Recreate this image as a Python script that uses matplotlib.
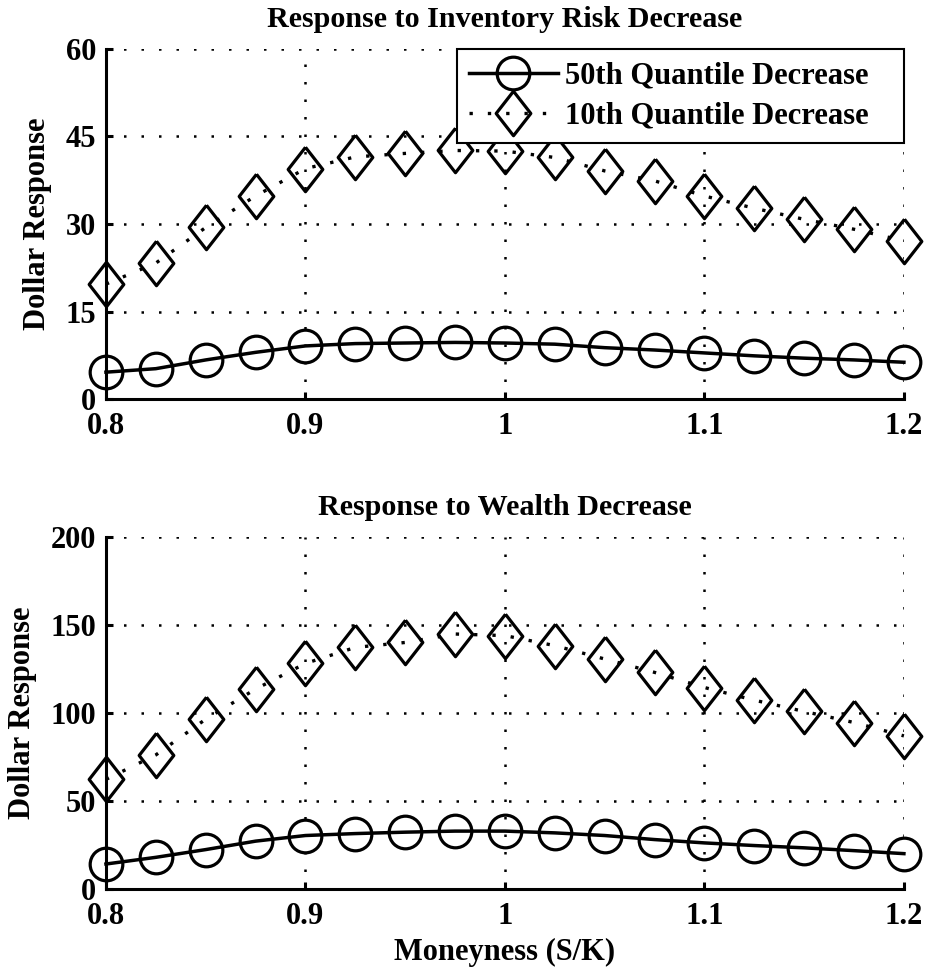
import matplotlib
matplotlib.use('Agg')
import matplotlib.pyplot as plt
import numpy as np

# moneyness grid (S/K)
moneyness = [0.8, 0.825, 0.85, 0.875, 0.9, 0.925, 0.95, 0.975, 1.0,
             1.025, 1.05, 1.075, 1.1, 1.125, 1.15, 1.175, 1.2]

# response to inventory risk decrease
inv_q50 = [4.6, 5.2, 6.7, 8.0, 9.1, 9.5, 9.6, 9.7, 9.6,
           9.4, 8.8, 8.4, 7.9, 7.4, 7.0, 6.7, 6.3]
inv_q10 = [19.7, 23.3, 29.4, 34.8, 39.5, 41.5, 42.1, 42.6, 42.5,
           41.4, 39.1, 37.4, 34.8, 32.7, 30.8, 29.1, 27.1]

# response to wealth decrease
wealth_q50 = [14.2, 18.0, 22.4, 27.2, 30.4, 31.5, 32.3, 32.9, 32.9,
              31.9, 30.4, 28.1, 26.2, 24.7, 23.4, 21.8, 20.1]
wealth_q10 = [62.3, 76.2, 96.5, 113.6, 128.2, 137.3, 140.1, 144.9, 144.0,
              138.3, 130.7, 123.1, 114.5, 107.3, 100.9, 94.6, 87.0]

x_ticks = [0.8, 0.9, 1.0, 1.1, 1.2]
x_ticklabels = ['0.8', '0.9', '1', '1.1', '1.2']
inv_yticks = [0, 15, 30, 45, 60]
wealth_yticks = [0, 50, 100, 150, 200]
series_names = ['50th Quantile Decrease', '10th Quantile Decrease']

plt.rcParams['font.family'] = ['Liberation Serif', 'DejaVu Serif']
plt.rcParams['font.weight'] = 'bold'
plt.rcParams['font.size'] = 22

# tall diamond like the matlab marker
diamond = [(0, 1), (0.78, 0), (0, -1), (-0.78, 0), (0, 1)]

fig = plt.figure(figsize=(9.27, 9.68), dpi=100)
ax1 = fig.add_axes([0.1143, 0.5878, 0.8608, 0.3616])
ax2 = fig.add_axes([0.1143, 0.0816, 0.8608, 0.3636])


def style_axes(ax, yticks, title):
    ax.set_xlim(0.8, 1.2)
    ax.set_ylim(yticks[0], yticks[-1])
    ax.set_xticks(x_ticks)
    ax.set_xticklabels(x_ticklabels)
    ax.set_yticks(yticks)
    ax.set_yticklabels([str(t) for t in yticks])
    for s in ['top', 'right']:
        ax.spines[s].set_visible(False)
    for s in ['left', 'bottom']:
        ax.spines[s].set_linewidth(2.2)
    ax.tick_params(direction='in', length=5, width=2.2, pad=7)
    ax.tick_params(axis='x', pad=9)
    ax.grid(True, color='black', linestyle=(0, (1, 6)), linewidth=1.8)
    ax.set_axisbelow(False)
    ax.set_ylabel('Dollar Response', fontweight='bold', labelpad=10)
    ax.set_title(title, fontweight='bold', fontsize=21.7, pad=16)


def draw(ax, q50, q10):
    ax.plot(moneyness, q50, color='black', linestyle='-', linewidth=2.5,
            marker='o', markersize=23.5, markerfacecolor='none',
            markeredgewidth=2.3, clip_on=False, label=series_names[0] + '   ')
    ax.plot(moneyness, q10, color='black', linestyle=(0, (1, 4.5)), linewidth=2.4,
            marker=diamond, markersize=32, markerfacecolor='none',
            markeredgewidth=2.3, clip_on=False, label=series_names[1] + '   ')


draw(ax1, inv_q50, inv_q10)
style_axes(ax1, inv_yticks, 'Response to Inventory Risk Decrease')
leg = ax1.legend(loc='upper right', numpoints=1, handlelength=2.9,
                 fancybox=False, framealpha=1, borderaxespad=0,
                 labelspacing=0.38, borderpad=0.4, handletextpad=0.25)
leg.get_frame().set_edgecolor('black')
leg.get_frame().set_linewidth(1.5)
leg.set_zorder(5)

draw(ax2, wealth_q50, wealth_q10)
style_axes(ax2, wealth_yticks, 'Response to Wealth Decrease')
ax2.set_xlabel('Moneyness (S/K)', fontweight='bold', labelpad=5)

fig.savefig('out.png', dpi=100)
